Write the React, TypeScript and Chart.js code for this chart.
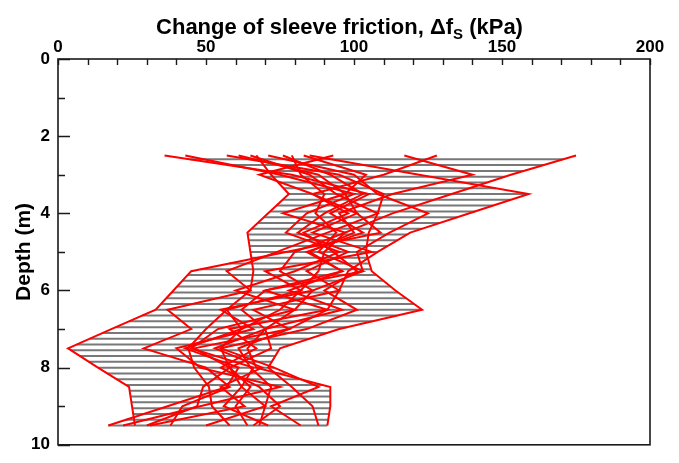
import React, { useEffect, useRef } from 'react';
import { Chart, registerables } from 'chart.js';

Chart.register(...registerables);

// Depths (m) at which each profile was measured
const depths = [2.5, 3, 3.5, 4, 4.5, 5, 5.5, 6, 6.5, 7, 7.5, 8, 8.5, 9, 9.5];

// Change of sleeve friction (kPa) for each profile, one value per depth
const profile1 = [175, 153, 133, 113, 97, 90, 88, 82, 75, 62, 55, 58, 65, 60, 64];
const profile2 = [85, 122, 159, 139, 119, 108, 98, 95, 91, 78, 61, 65, 72, 70, 68];
const profile3 = [36, 79, 105, 92, 103, 84, 96, 70, 91, 58, 67, 55, 68, 75, 66];
const profile4 = [43, 75, 100, 84, 77, 95, 80, 60, 80, 54, 45, 66, 62, 56, 71];
const profile5 = [67, 72, 78, 71, 64, 65, 66, 65, 57, 50, 44, 46, 51, 52, 58];
const profile6 = [61, 88, 97, 101, 109, 77, 45, 39, 33, 18, 3.4, 13.5, 24, 25, 26];
const profile7 = [65, 85, 94, 108, 91, 74, 57, 65, 37, 45, 29, 50, 58, 42, 38];
const profile8 = [128, 110, 86, 98, 83, 93, 101, 90, 101, 84, 55, 73, 88, 72, 82];
const profile9 = [117, 140, 113, 95, 100, 85, 96, 78, 96, 70, 72, 58, 62, 70, 50];
const profile10 = [57, 95, 110, 108, 105, 104, 106, 114, 123, 95, 75, 71, 79, 86, 88];
const profile11 = [71, 100, 108, 125, 112, 101, 103, 86, 80, 70, 64, 67, 92, 92, 91];
const profile12 = [76, 92, 103, 90, 81, 98, 84, 95, 66, 78, 46, 58, 49, 47, 30];
const profile13 = [79, 82, 90, 87, 94, 88, 103, 70, 62, 70, 53, 69, 55, 63, 31];
const profile14 = [83, 104, 97, 76, 97, 80, 75, 86, 55, 66, 40, 48, 75, 48, 22];
const profile15 = [93, 68, 86, 101, 86, 106, 70, 82, 57, 62, 43, 61, 57, 37, 17];

const profiles = [
  profile1, profile2, profile3, profile4, profile5, profile6, profile7, profile8,
  profile9, profile10, profile11, profile12, profile13, profile14, profile15,
];

// Axis settings
const xMin = 0;
const xMax = 200;
const xLabelStep = 50;
const xMinorStep = 10;
const yMin = 0;
const yMax = 10;
const yLabelStep = 2;
const yMinorStep = 1;

// Hatching between the envelope of all profiles
const hatchStart = 2.6;
const hatchEnd = 9.5;
const hatchStep = 0.15;

const FONT = '"Liberation Sans", Arial, Helvetica, sans-serif';

function valueAt(p: number[], d: number): number {
  for (let i = 0; i < depths.length - 1; i++) {
    const d0 = depths[i];
    const d1 = depths[i + 1];
    if (d >= d0 - 1e-9 && d <= d1 + 1e-9) {
      const t = (d - d0) / (d1 - d0);
      return p[i] + (p[i + 1] - p[i]) * t;
    }
  }
  return p[p.length - 1];
}

const framePlugin = {
  id: 'frameTicksTitle',
  afterDraw(chart: any) {
    const { ctx, chartArea: a, scales } = chart;
    const x = scales.x;
    const y = scales.y;
    ctx.save();
    ctx.strokeStyle = '#1a1a1a';
    ctx.lineWidth = 1.6;
    ctx.strokeRect(a.left, a.top, a.right - a.left, a.bottom - a.top);
    ctx.lineWidth = 1.4;
    ctx.beginPath();
    for (let v = xMin; v <= xMax; v += xMinorStep) {
      const px = Math.round(x.getPixelForValue(v)) + 0.5;
      ctx.moveTo(px, a.top);
      ctx.lineTo(px, a.top + 6);
    }
    for (let d = yMin; d <= yMax; d += yMinorStep) {
      const py = Math.round(y.getPixelForValue(d)) + 0.5;
      ctx.moveTo(a.left, py);
      ctx.lineTo(a.left + (d % yLabelStep === 0 ? 12 : 7), py);
    }
    ctx.stroke();

    // Title with subscript
    const main = 'Change of sleeve friction, \u0394f';
    const sub = 'S';
    const tail = ' (kPa)';
    const mainFont = `bold 22px ${FONT}`;
    const subFont = `bold 15px ${FONT}`;
    ctx.font = mainFont;
    const w1 = ctx.measureText(main).width;
    const w3 = ctx.measureText(tail).width;
    ctx.font = subFont;
    const w2 = ctx.measureText(sub).width;
    const total = w1 + w2 + w3;
    let sx = chart.width / 2 - total / 2;
    const base = 34;
    ctx.fillStyle = '#000';
    ctx.textAlign = 'left';
    ctx.textBaseline = 'alphabetic';
    ctx.font = mainFont;
    ctx.fillText(main, sx, base);
    sx += w1;
    ctx.font = subFont;
    ctx.fillText(sub, sx, base + 5);
    sx += w2;
    ctx.font = mainFont;
    ctx.fillText(tail, sx, base);
    ctx.restore();
  },
};

export default function App() {
  const ref = useRef<HTMLCanvasElement>(null);

  useEffect(() => {
    if (!ref.current) return;

    const redSets = profiles.map((p, i) => ({
      label: `Profile ${i + 1}`,
      data: p.map((v, k) => ({ x: v, y: depths[k] })),
      borderColor: '#ff0000',
      backgroundColor: '#ff0000',
      borderWidth: 2,
      pointRadius: 0,
      showLine: true,
      tension: 0,
      order: 0,
    }));

    const hatchSets: any[] = [];
    for (let k = 0; ; k++) {
      const d = +(hatchStart + k * hatchStep).toFixed(4);
      if (d > hatchEnd + 1e-6) break;
      const vals = profiles.map((p) => valueAt(p, d));
      hatchSets.push({
        label: `hatch ${k}`,
        data: [
          { x: Math.min(...vals), y: d },
          { x: Math.max(...vals), y: d },
        ],
        borderColor: '#787878',
        backgroundColor: '#787878',
        borderWidth: 2,
        pointRadius: 0,
        showLine: true,
        order: 1,
      });
    }

    const chart = new Chart(ref.current, {
      type: 'scatter',
      data: { datasets: [...redSets, ...hatchSets] },
      options: {
        responsive: false,
        animation: false,
        layout: { padding: { top: 0, left: 0, right: 29, bottom: 11 } },
        plugins: {
          legend: { display: false },
          tooltip: { enabled: false },
          title: { display: false },
        },
        scales: {
          x: {
            type: 'linear',
            position: 'top',
            min: xMin,
            max: xMax,
            grid: { display: false, drawTicks: false },
            border: { display: false },
            ticks: {
              stepSize: xMinorStep,
              autoSkip: false,
              maxRotation: 0,
              padding: 1,
              color: '#000',
              font: { family: FONT, size: 17, weight: 'bold' },
              callback: (v: any) => (Number(v) % xLabelStep === 0 ? String(v) : ''),
            },
            afterFit: (s: any) => {
              s.height = 59;
            },
          },
          y: {
            type: 'linear',
            reverse: true,
            min: yMin,
            max: yMax,
            grid: { display: false, drawTicks: false },
            border: { display: false },
            title: {
              display: true,
              text: 'Depth (m)',
              color: '#000',
              font: { family: FONT, size: 21, weight: 'bold' },
              padding: { top: 12, bottom: 0 },
            },
            ticks: {
              stepSize: yMinorStep,
              autoSkip: false,
              padding: 8,
              color: '#000',
              font: { family: FONT, size: 17, weight: 'bold' },
              callback: (v: any) => (Number(v) % yLabelStep === 0 ? String(v) : ''),
            },
            afterFit: (s: any) => {
              s.width = 58;
            },
          },
        },
      } as any,
      plugins: [framePlugin],
    });

    return () => chart.destroy();
  }, []);

  return (
    <div style={{ position: 'fixed', left: 0, top: 0, width: 679, height: 463, background: '#fff' }}>
      <canvas ref={ref} width={679} height={463} />
    </div>
  );
}
